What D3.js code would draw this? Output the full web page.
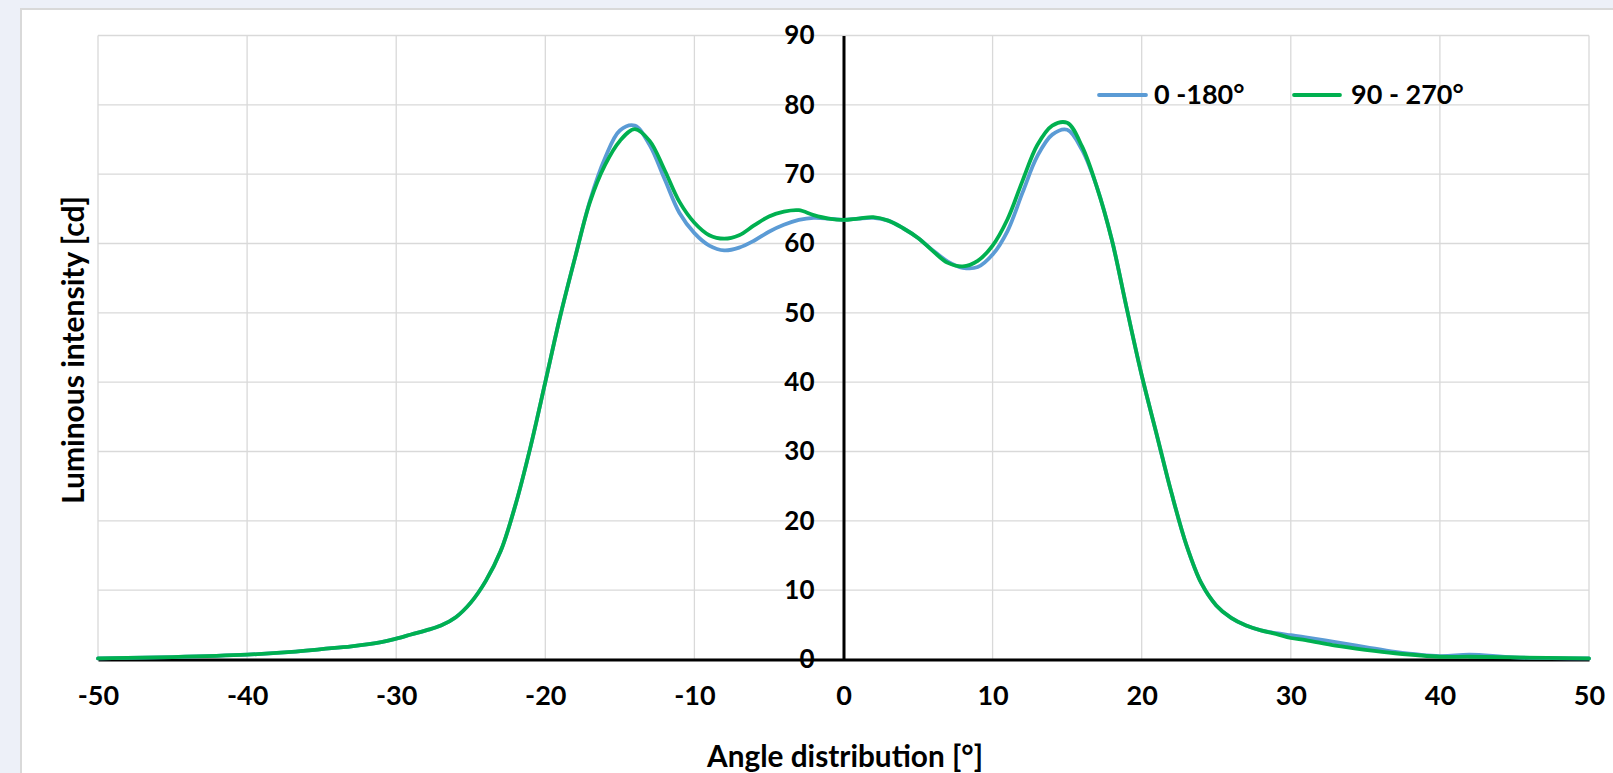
<!DOCTYPE html>
<html>
<head>
<meta charset="utf-8">
<script src="https://cdn.jsdelivr.net/npm/d3@7/dist/d3.min.js"></script>
<style>
  html, body { margin: 0; padding: 0; background: #edf0f8; }
  svg { display: block; }
  text { font-family: Lato, "Open Sans", sans-serif; font-weight: 700; fill: #000; }
</style>
</head>
<body>
<svg id="chart" width="1613" height="773"></svg>
<script>
// ---- data ----
const angles = [-50,-45,-40,-37,-35,-33,-31,-30,-29,-28,-27,-26,-25,-24,-23,-22,-21,-20,-19,-18,-17,-16,-15,-14,-13,-12,-11,-10,-9,-8,-7,-6,-5,-4,-3,-2,-1,0,1,2,3,4,5,6,7,8,9,10,11,12,13,14,15,16,17,18,19,20,21,22,23,24,25,26,27,28,29,30,31,33,35,37,40,42,45,50];
const series0_180 = [0.15,0.35,0.7,1.1,1.5,1.9,2.5,3.0,3.6,4.2,4.9,6.1,8.2,11.3,15.6,22.3,30.6,40,49.5,58.0,66.2,72.3,76.3,77.0,74.2,69.3,64.4,61.5,59.7,59.0,59.4,60.4,61.7,62.7,63.4,63.7,63.6,63.4,63.6,63.7,63.3,62.2,60.8,59.0,57.4,56.5,56.6,58.4,61.8,67.3,72.6,75.7,76.4,73.5,68.1,60.5,50.6,41.0,32.5,24.0,16.5,11.0,7.8,6.0,4.9,4.2,3.8,3.5,3.2,2.5,1.8,1.1,0.5,0.7,0.3,0.15];
const series90_270 = [0.15,0.35,0.7,1.1,1.5,1.9,2.5,3.0,3.6,4.2,4.9,6.1,8.2,11.3,15.6,22.3,30.6,40,49.5,58.0,66.0,71.3,74.8,76.5,74.8,70.6,66.0,63.0,61.2,60.7,61.2,62.6,63.9,64.6,64.8,64.1,63.6,63.4,63.6,63.8,63.3,62.2,60.8,58.9,57.2,56.7,57.5,59.7,63.5,69.0,74.2,77.0,77.4,74.0,68.1,60.5,50.6,41.0,32.5,24.0,16.5,11.0,7.8,6.0,4.9,4.2,3.7,3.1,2.8,2.0,1.4,0.9,0.4,0.4,0.3,0.15];
const seriesNames = ["0 -180°", "90 - 270°"];
const seriesColors = ["#5b9bd5", "#00b050"];
const xTickValues = [-50,-40,-30,-20,-10,0,10,20,30,40,50];
const yTickValues = [0,10,20,30,40,50,60,70,80,90];
const xTitle = "Angle distribution [°]";
const yTitle = "Luminous intensity [cd]";

// ---- layout ----
const svg = d3.select("#chart");
const W = 1613, H = 773;
const plot = { left: 98, right: 1589, top: 35.5, bottom: 659.5 };

svg.append("rect").attr("x", 0).attr("y", 0).attr("width", W).attr("height", H).attr("fill", "#edf0f8");
svg.append("rect").attr("x", 21).attr("y", 9).attr("width", W).attr("height", H)
  .attr("fill", "#ffffff").attr("stroke", "#d9d9d9").attr("stroke-width", 2);

const x = d3.scaleLinear().domain([-50, 50]).range([plot.left, plot.right]);
const y = d3.scaleLinear().domain([0, 90]).range([plot.bottom, plot.top]);

// gridlines
const grid = svg.append("g").attr("stroke", "#d9d9d9").attr("stroke-width", 1.3);
grid.selectAll("line.v").data(xTickValues).join("line")
  .attr("x1", d => x(d)).attr("x2", d => x(d)).attr("y1", y(90)).attr("y2", y(0));
grid.selectAll("line.h").data(yTickValues).join("line")
  .attr("x1", x(-50)).attr("x2", x(50)).attr("y1", d => y(d)).attr("y2", d => y(d));

// series lines
const line = d3.line().x(d => x(d.a)).y(d => y(d.v)).curve(d3.curveCatmullRom.alpha(0.5));
const allSeries = [series0_180, series90_270].map((vals, i) => ({
  name: seriesNames[i], color: seriesColors[i], values: angles.map((a, j) => ({ a, v: vals[j] }))
}));

const fmt = d => String(d);
const yAxis = d3.axisLeft(y).tickValues(yTickValues).tickSize(0).tickPadding(29).tickFormat(fmt);
const gy = svg.append("g").attr("transform", `translate(${x(0)},0)`).call(yAxis);
gy.select(".domain").attr("stroke", "#000").attr("stroke-width", 3);
gy.selectAll("text").attr("font-size", 26).attr("font-family", "Lato").attr("font-weight", 700).attr("fill", "#000");

const xAxis = d3.axisBottom(x).tickValues(xTickValues).tickSize(0).tickPadding(26).tickFormat(fmt);
const gx = svg.append("g").attr("transform", `translate(0,${y(0)})`).call(xAxis);
gx.select(".domain").attr("stroke", "#000").attr("stroke-width", 3);
gx.selectAll("text").attr("font-size", 27).attr("font-family", "Lato").attr("font-weight", 700).attr("fill", "#000");

svg.append("g").selectAll("path").data(allSeries).join("path")
  .attr("d", d => line(d.values)).attr("fill", "none")
  .attr("stroke", d => d.color).attr("stroke-width", 3.8)
  .attr("stroke-linejoin", "round").attr("stroke-linecap", "round");

// titles
function fit(sel, target) {
  const len = sel.node().getComputedTextLength();
  const fs = parseFloat(sel.attr("font-size"));
  sel.attr("font-size", fs * target / len);
}
const yt = svg.append("text").attr("transform", "translate(84,350) rotate(-90)")
  .attr("text-anchor", "middle").attr("font-size", 22).text(yTitle);
fit(yt, 308);
const xt = svg.append("text").attr("x", 845).attr("y", 767)
  .attr("text-anchor", "middle").attr("font-size", 22).text(xTitle);
fit(xt, 276);

// legend
const legendPos = [{ x1: 1099, x2: 1146, tx: 1154 }, { x1: 1294, x2: 1340, tx: 1351 }];
const lg = svg.append("g");
allSeries.forEach((s, i) => {
  const p = legendPos[i];
  lg.append("line").attr("x1", p.x1).attr("x2", p.x2).attr("y1", 95).attr("y2", 95)
    .attr("stroke", s.color).attr("stroke-width", 3.8).attr("stroke-linecap", "round");
  lg.append("text").attr("x", p.tx).attr("y", 95).attr("dy", "0.35em")
    .attr("font-size", 27).text(s.name);
});
</script>
</body>
</html>
